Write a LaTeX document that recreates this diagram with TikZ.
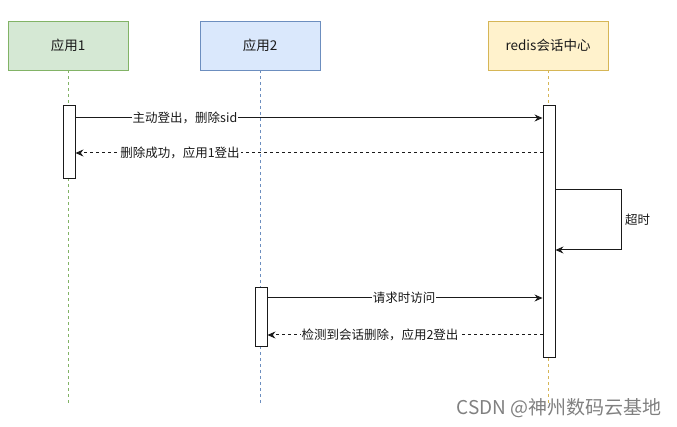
\documentclass[tikz,border=0pt]{standalone}
\usepackage{fontspec}
\setmainfont{Noto Sans CJK SC}
\usetikzlibrary{arrows.meta}
\definecolor{gfill}{HTML}{D5E8D4}\definecolor{gline}{HTML}{82B366}
\definecolor{bfill}{HTML}{DAE8FC}\definecolor{bline}{HTML}{6C8EBF}
\definecolor{yfill}{HTML}{FFF2CC}\definecolor{yline}{HTML}{D6B656}
\definecolor{ink}{HTML}{1A1A1A}
\tikzset{
  actor/.style={draw=#1line, fill=#1fill, line width=0.9pt, minimum width=120pt, minimum height=49pt, inner sep=0pt, font=\fontsize{13.5}{15}\selectfont, text=ink},
  life/.style={#1line, dashed, dash pattern=on 3pt off 3pt, line width=0.8pt},
  actbox/.style={draw=ink, fill=white, line width=0.9pt, minimum width=12pt, inner sep=0pt},
  msg/.style={draw=ink, line width=1pt, -{Stealth[length=8pt,width=7pt]}},
  ret/.style={msg, dashed, dash pattern=on 3pt off 3pt},
  lbl/.style={fill=white, inner sep=1pt, font=\fontsize{12.5}{14}\selectfont, text=ink},
}
\begin{document}
\begin{tikzpicture}[x=1pt,y=-1pt]
\useasboundingbox (0,0) rectangle (677,427);
\node[actor=g] (a1) at (68,45.5) {应用1};
\node[actor=b] (a2) at (260,45.5) {应用2};
\node[actor=y] (rc) at (548,45.5) {redis会话中心};
\coordinate (e1) at (68,405);
\coordinate (e2) at (260,405);
\coordinate (e3) at (548,405);
\draw[life=g] (a1.south) -- (e1);
\draw[life=b] (a2.south) -- (e2);
\draw[life=y] (rc.south) -- (e3);
\node[actbox, minimum height=73pt] (s1) at (69,141.5) {};
\node[actbox, minimum height=252pt] (sr) at (549,231) {};
\node[actbox, minimum height=59pt] (s2) at (261,316.5) {};
% messages
\coordinate (m1a) at (s1.east |- 0,118);
\coordinate (m1b) at (sr.west |- 0,118);
\draw[msg] (m1a) -- (m1b);
\node[lbl] (l1) at (185,118) {主动登出，删除sid};
\coordinate (m2a) at (sr.west |- 0,153);
\coordinate (m2b) at (s1.east |- 0,153);
\draw[ret] (m2a) -- (m2b);
\node[lbl] (l2) at (180,153) {删除成功，应用1登出};
% self loop
\coordinate (t1) at (sr.east |- 0,190);
\coordinate (t2) at (sr.east |- 0,250);
\draw[msg] (t1) -- (621,190) -- (621,250) -- (t2);
\node[lbl, anchor=west] (l3) at (624,220) {超时};
\coordinate (m3a) at (s2.east |- 0,298);
\coordinate (m3b) at (sr.west |- 0,298);
\draw[msg] (m3a) -- (m3b);
\node[lbl] (l4) at (404,298) {请求时访问};
\coordinate (m4a) at (sr.west |- 0,335);
\coordinate (m4b) at (s2.east |- 0,335);
\draw[ret] (m4a) -- (m4b);
\node[lbl] (l5) at (380,335) {检测到会话删除，应用2登出};
\node[text=black!50, font=\fontsize{19}{21}\selectfont, anchor=east, inner sep=0pt] (wm) at (662,408) {CSDN @神州数码云基地};
\end{tikzpicture}
\end{document}
